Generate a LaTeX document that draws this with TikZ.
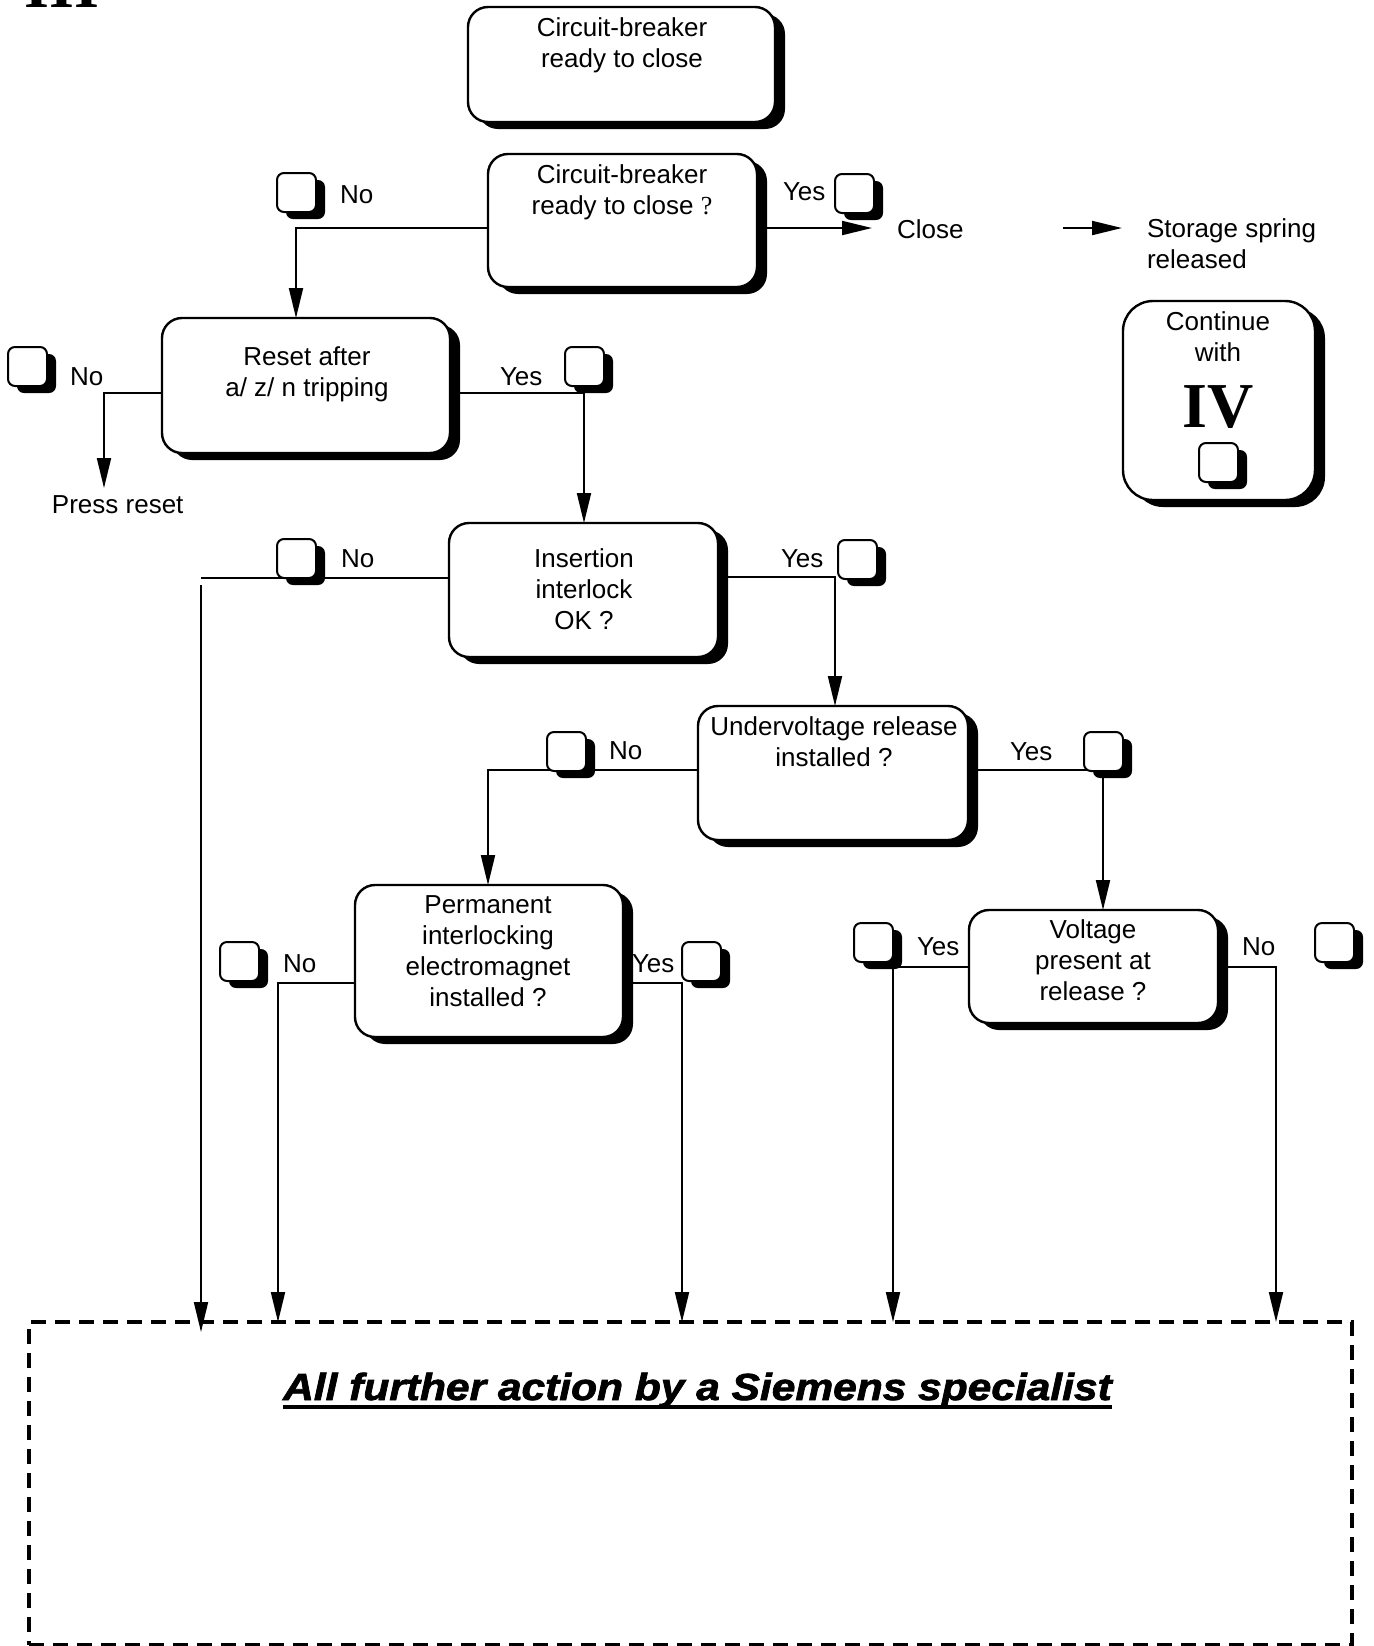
\documentclass[tikz,border=0pt]{standalone}
\usepackage{fontspec}
\usepackage{graphicx}
\setmainfont{Liberation Sans}
\newfontfamily\romanfont{Liberation Serif}
\newfontfamily\titlefont[BoldItalicFeatures={FakeBold=1.8}]{Liberation Sans}
\usetikzlibrary{arrows.meta,shadows}
\begin{document}
\begin{tikzpicture}[x=0.5pt,y=-0.5pt,
  every node/.style={inner sep=0pt, outer sep=0pt},
  txt/.style={font=\fontsize{13}{15.5}\selectfont, align=center, anchor=north},
  lbl/.style={font=\fontsize{13}{15.5}\selectfont, anchor=base west},
  stepbox/.style={draw, line width=1.2pt, rounded corners=10pt, fill=white,
    drop shadow={fill=black, opacity=1, shadow xshift=5pt, shadow yshift=-3.5pt}},
  tick/.style={draw, line width=1pt, rounded corners=3.5pt, fill=white,
    minimum width=19.5pt, minimum height=19.5pt,
    drop shadow={fill=black, opacity=1, shadow xshift=4.5pt, shadow yshift=-3.5pt}},
  flow/.style={line width=1pt},
  arr/.style={flow, -{Triangle[length=15pt,width=7pt]}},
  bigroman/.style={font=\romanfont\bfseries\fontsize{32}{34}\selectfont},
]
\useasboundingbox (0,0) rectangle (1374,1646);
\clip (0,0) rectangle (1374,1646);

% section number, cut by the page edge
\node[bigroman, anchor=base west] (sec) at (25,7) {III};

% junction points of the connectors
\coordinate (j1) at (296,228);
\coordinate (ctip) at (872,228);
\coordinate (sp0) at (1063,228);
\coordinate (sp1) at (1122,228);
\coordinate (j3) at (104,393);
\coordinate (ptip) at (104,488);
\coordinate (j4) at (584,393);
\coordinate (j5) at (201,578);
\coordinate (j6) at (201,585);
\coordinate (j6tip) at (201,1332);
\coordinate (j7) at (835,577);
\coordinate (j8) at (488,770);
\coordinate (j9) at (1103,770);
\coordinate (j10) at (278,983);
\coordinate (j11) at (682,983);
\coordinate (j12) at (893,967);
\coordinate (j13) at (1276,967);

% decision boxes
\node[stepbox, minimum width=153.5pt, minimum height=57.5pt] (b1) at (621.5,64.5) {};
\node[stepbox, minimum width=134.5pt, minimum height=66.5pt] (b2) at (622.5,220.5) {};
\node[stepbox, minimum width=144pt, minimum height=67.5pt] (b3) at (306,385.5) {};
\node[stepbox, minimum width=134.5pt, minimum height=67pt] (b4) at (583.5,590) {};
\node[stepbox, minimum width=135pt, minimum height=67pt] (b5) at (833,773) {};
\node[stepbox, minimum width=134pt, minimum height=76pt] (b6) at (489,961) {};
\node[stepbox, minimum width=124.5pt, minimum height=56.5pt] (b7) at (1093.5,966.5) {};
\node[stepbox, rounded corners=15pt, minimum width=96pt, minimum height=99.5pt] (cont) at (1219,400.5) {};

% final dashed frame
\node[draw, line width=2pt, dash pattern=on 7.5pt off 4.5pt,
  minimum width=661.5pt, minimum height=161.5pt] (spec) at (690.5,1483.5) {};

% connectors
\draw[arr] (b2.west |- j1) -| (j1 |- b3.north);
\draw[arr] (b2.east |- j1) -- (ctip);
\draw[arr] (sp0) -- (sp1);
\draw[arr] (b3.west |- j3) -| (ptip);
\draw[arr] (b3.east |- j4) -| (j4 |- b4.north);
\draw[flow] (b4.west |- j5) -- (j5);
\draw[arr] (j6) -- (j6tip);
\draw[arr] (b4.east |- j7) -| (j7 |- b5.north);
\draw[arr] (b5.west |- j8) -| (j8 |- b6.north);
\draw[arr] (b5.east |- j9) -| (j9 |- b7.north);
\draw[arr] (b6.west |- j10) -| (j10 |- spec.north);
\draw[arr] (b6.east |- j11) -| (j11 |- spec.north);
\draw[arr] (b7.west |- j12) -| (j12 |- spec.north);
\draw[arr] (b7.east |- j13) -| (j13 |- spec.north);

% check boxes
\node[tick] (k1) at (296.5,192.5) {};
\node[tick] (k2) at (854.5,193.5) {};
\node[tick] (k3) at (27.5,366.5) {};
\node[tick] (k4) at (584.5,366.5) {};
\node[tick] (k5) at (296.5,558.5) {};
\node[tick] (k6) at (857.5,559.5) {};
\node[tick] (k7) at (566.5,751.5) {};
\node[tick] (k8) at (1103.5,751.5) {};
\node[tick] (k9) at (239.5,961.5) {};
\node[tick] (k10) at (701.5,961.5) {};
\node[tick] (k11) at (873.5,942.5) {};
\node[tick] (k12) at (1334.5,942.5) {};
\node[tick] (k13) at (1218.5,462.5) {};

% box texts
\node[txt] (t1) at (622,18) {Circuit-breaker\\ready to close};
\node[txt] (t2) at (622,165) {Circuit-breaker\\ready to close {\romanfont ?}};
\node[txt] (t3) at (307,347) {Reset after\\a/ z/ n tripping};
\node[txt] (t4) at (584,549) {Insertion\\interlock\\OK ?};
\node[txt] (t5) at (834,717) {Undervoltage release\\installed ?};
\node[txt] (t6) at (488,896) {Permanent\\interlocking\\electromagnet\\installed ?};
\node[txt] (t7) at (1093,920) {Voltage\\present at\\release ?};
\node[txt] (t8) at (1218,312) {Continue\\with};
\node[bigroman, anchor=base] (t9) at (1218,427) {IV};

% branch labels
\node[lbl] (l1) at (340,203) {No};
\node[lbl] (l2) at (783,200) {Yes};
\node[lbl] (close) at (897,238) {Close};
\node[txt, align=left, anchor=north west] (spring) at (1147,219) {Storage spring\\released};
\node[lbl] (l3) at (70,385) {No};
\node[lbl] (press) at (52,513) {Press reset};
\node[lbl] (l4) at (500,385) {Yes};
\node[lbl] (l5) at (341,567) {No};
\node[lbl] (l6) at (781,567) {Yes};
\node[lbl] (l7) at (609,759) {No};
\node[lbl] (l8) at (1010,760) {Yes};
\node[lbl] (l9) at (283,972) {No};
\node[lbl] (l10) at (632,972) {Yes};
\node[lbl] (l11) at (917,955) {Yes};
\node[lbl] (l12) at (1242,955) {No};
\draw[line width=0.6pt, dotted] (626,942) -- (626,982);

% closing statement
\node[anchor=base, font=\titlefont\fontsize{18}{20}\selectfont\bfseries\itshape] (title) at (697.5,1400)
  {\scalebox{1.18}[1.05]{All further action by a Siemens specialist}};
\draw[line width=2pt] ([yshift=-3.5pt]title.base west) -- ([yshift=-3.5pt]title.base east);
\end{tikzpicture}
\end{document}
